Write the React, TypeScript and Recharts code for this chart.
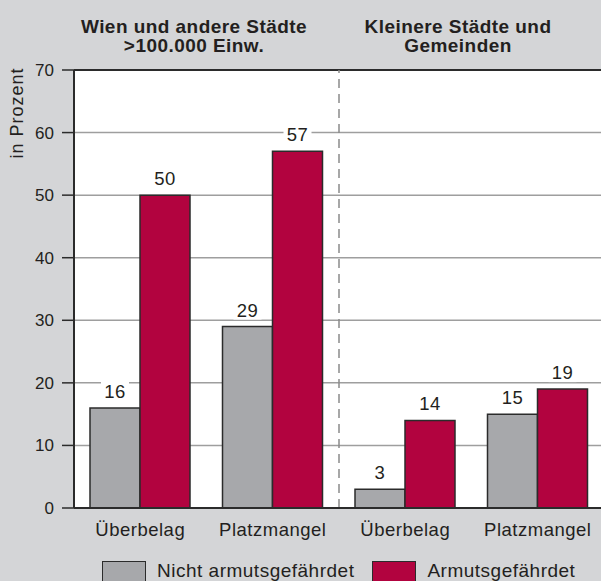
import React from 'react';
import {
  Bar,
  BarChart,
  CartesianGrid,
  LabelList,
  ReferenceLine,
  XAxis,
  YAxis,
  Label,
} from 'recharts';

const categoryIds = ['w1', 'w2', 'k1', 'k2'];
const categoryLabels = ['Überbelag', 'Platzmangel', 'Überbelag', 'Platzmangel'];
const nichtArmut = [16, 29, 3, 15];
const armut = [50, 57, 14, 19];
const yTicks = [0, 10, 20, 30, 40, 50, 60, 70];

const seriesNames = ['Nicht armutsgefährdet', 'Armutsgefährdet'];
const seriesColors = ['#a7a8ab', '#b2033f'];

const groupTitles = [
  ['Wien und andere Städte', '>100.000 Einw.'],
  ['Kleinere Städte und', 'Gemeinden'],
];

const FONT = '"Liberation Sans", Arial, Helvetica, sans-serif';
const TEXT = '#231f20';

const chartData = categoryIds.map((id, i) => ({
  id,
  nicht: nichtArmut[i],
  armut: armut[i],
}));

const labelOf = (id: string) => categoryLabels[categoryIds.indexOf(id)] ?? id;

function ValueLabel(props: any) {
  const { x, y, width, value } = props;
  const cx = Number(x) + Number(width) / 2;
  const baseline = Number(y) - 10;
  const w = String(value).length * 11 + 6;
  return (
    <g>
      <rect x={cx - w / 2} y={baseline - 17} width={w} height={20} fill="#fff" />
      <text
        x={cx}
        y={baseline}
        textAnchor="middle"
        fontSize={18.5}
        letterSpacing={0.5}
        fill={TEXT}
        fontFamily={FONT}
      >
        {value}
      </text>
    </g>
  );
}

function AxisTitle(props: any) {
  const vb = props.viewBox || {};
  const x = (vb.x ?? 0) + 23;
  const y = (vb.y ?? 70) + 43;
  return (
    <text
      x={x}
      y={y}
      transform={`rotate(-90 ${x} ${y})`}
      textAnchor="middle"
      fontSize={18}
      letterSpacing={1}
      fill={TEXT}
      fontFamily={FONT}
    >
      in Prozent
    </text>
  );
}

export default function App() {
  const titleCenters = [194, 458];
  return (
    <div
      style={{
        position: 'absolute',
        left: 0,
        top: 0,
        width: 601,
        height: 581,
        overflow: 'hidden',
        background: '#d4d5d7',
        fontFamily: FONT,
        color: TEXT,
      }}
    >
      {groupTitles.map((lines, i) => (
        <div
          key={i}
          style={{
            position: 'absolute',
            top: 17,
            left: titleCenters[i] - 150,
            width: 300,
            textAlign: 'center',
            fontWeight: 'bold',
            fontSize: 19,
            letterSpacing: 0.45,
            lineHeight: '19px',
          }}
        >
          {lines.map((l) => (
            <div key={l}>{l}</div>
          ))}
        </div>
      ))}

      <BarChart
        width={604}
        height={581}
        data={chartData}
        margin={{ top: 70, right: 0, bottom: 0, left: 0 }}
        barGap={0}
        barSize={50}
      >
        <CartesianGrid
          vertical={false}
          stroke="#9e9e9e"
          strokeWidth={1.5}
          fill="#ffffff"
          fillOpacity={1}
        />
        <XAxis
          dataKey="id"
          height={73}
          tickFormatter={labelOf}
          tickLine={false}
          tickSize={0}
          tickMargin={15}
          axisLine={{ stroke: '#2b2b2b', strokeWidth: 2 }}
          tick={{ fontSize: 18.5, fill: TEXT, fontFamily: FONT, letterSpacing: 0.5 }}
          interval={0}
        />
        <YAxis
          width={74}
          domain={[0, 70]}
          ticks={yTicks}
          interval={0}
          tickSize={12}
          tickMargin={8}
          axisLine={{ stroke: '#2b2b2b', strokeWidth: 2 }}
          tickLine={{ stroke: '#2b2b2b', strokeWidth: 1.5 }}
          tick={{ fontSize: 17, fill: TEXT, fontFamily: FONT }}
        >
          <Label content={<AxisTitle />} />
        </YAxis>
        <ReferenceLine y={70} stroke="#2b2b2b" strokeWidth={2} />
        <ReferenceLine
          x="k1"
          position="start"
          stroke="#8a8a8a"
          strokeWidth={1.5}
          strokeDasharray="9 6"
        />
        <Bar
          dataKey="nicht"
          name={seriesNames[0]}
          fill={seriesColors[0]}
          stroke="#2b2b2b"
          strokeWidth={1.5}
          isAnimationActive={false}
        >
          <LabelList dataKey="nicht" content={<ValueLabel />} />
        </Bar>
        <Bar
          dataKey="armut"
          name={seriesNames[1]}
          fill={seriesColors[1]}
          stroke="#2b2b2b"
          strokeWidth={1.5}
          isAnimationActive={false}
        >
          <LabelList dataKey="armut" content={<ValueLabel />} />
        </Bar>
      </BarChart>

      <div
        style={{
          position: 'absolute',
          left: 102,
          top: 561,
          display: 'flex',
          alignItems: 'flex-start',
          fontSize: 19,
          letterSpacing: 0.5,
          lineHeight: '20px',
          whiteSpace: 'nowrap',
        }}
      >
        {seriesNames.map((name, i) => (
          <div key={name} style={{ display: 'flex', alignItems: 'flex-start', marginRight: 18 }}>
            <div
              style={{
                width: 42,
                height: 20,
                background: seriesColors[i],
                border: '1.5px solid #2b2b2b',
                marginRight: 11,
              }}
            />
            <span style={{ marginTop: 0 }}>{name}</span>
          </div>
        ))}
      </div>
    </div>
  );
}
